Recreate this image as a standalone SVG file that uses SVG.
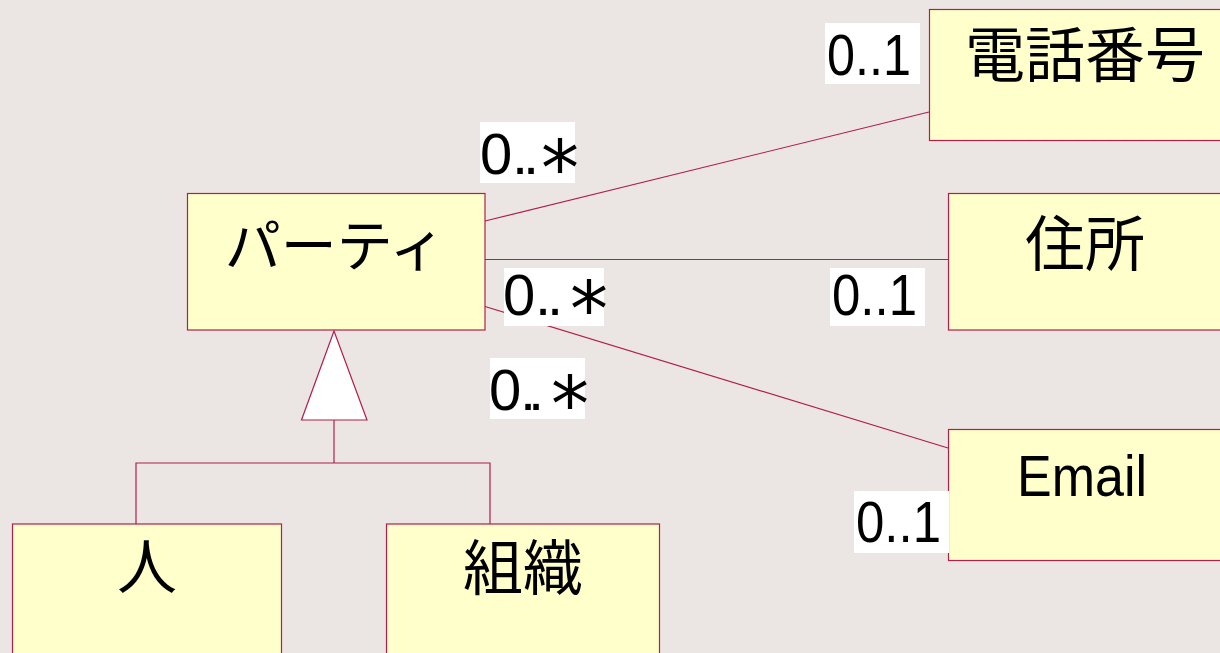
<svg xmlns="http://www.w3.org/2000/svg" width="1220" height="653" viewBox="0 0 1220 653">
<style>
.node{fill:#FFFFCC;stroke:#B0204A;stroke-width:1.2}
.conn{stroke:#B0204A;stroke-width:1.2;fill:none}
.lbl{font-family:"Noto Sans CJK JP","Liberation Sans",sans-serif;font-size:60px;fill:#000;text-anchor:middle}
.lbl.kana{font-size:56px}
.mult{font-family:"Liberation Sans",Arial,sans-serif;font-size:58px;fill:#000}
.ast{font-family:"DejaVu Sans",sans-serif;font-size:76px}
.bg{fill:#FFFFFF}
</style>
<rect x="0" y="0" width="1220" height="653" fill="#EBE6E3"/>
<g id="connectors">
<line class="conn" x1="485" y1="221" x2="929" y2="112"/>
<line class="conn" x1="485" y1="259.5" x2="948" y2="259.5"/>
<line class="conn" x1="485" y1="306.5" x2="948" y2="448"/>
<polyline class="conn" points="334,420 334,463"/>
<polyline class="conn" points="136,524 136,463 490,463 490,524"/>
<polygon points="334,331 301.5,420 367,420" fill="#FFFFFF" stroke="#B0204A" stroke-width="1.2"/>
</g>
<g id="party">
<rect class="node" x="187.5" y="193.5" width="297.5" height="136.5"/>
<text class="lbl kana" x="335" y="266">パーティ</text>
</g>
<g id="phone">
<rect class="node" x="929.5" y="9.5" width="300" height="131"/>
<text class="lbl" x="1085" y="77">電話番号</text>
</g>
<g id="address">
<rect class="node" x="948.5" y="193.5" width="290" height="136.5"/>
<text class="lbl" x="1085" y="266">住所</text>
</g>
<g id="email">
<rect class="node" x="948.5" y="429.5" width="290" height="131"/>
<text x="1082" y="496" font-family="Liberation Sans, Arial, sans-serif" font-size="58" text-anchor="middle" textLength="130" lengthAdjust="spacingAndGlyphs">Email</text>
</g>
<g id="person">
<rect class="node" x="12.5" y="524" width="269" height="140"/>
<text class="lbl" x="147" y="589">人</text>
</g>
<g id="organization">
<rect class="node" x="386.5" y="524" width="273" height="140"/>
<text class="lbl" x="523" y="590">組織</text>
</g>
<g id="multiplicities">
<rect class="bg" x="825" y="23" width="95" height="61"/>
<text class="mult" x="827" y="75" textLength="84" lengthAdjust="spacingAndGlyphs">0..1</text>
<rect class="bg" x="480" y="122" width="95" height="61"/>
<text class="mult" x="480 512 523" y="174">0..<tspan class="ast" x="541" dy="21">*</tspan></text>
<rect class="bg" x="504" y="268" width="100" height="58"/>
<text class="mult" x="503 535 547" y="315">0..<tspan class="ast" x="570" dy="21">*</tspan></text>
<rect class="bg" x="830" y="268" width="95" height="58"/>
<text class="mult" x="832" y="315" textLength="85" lengthAdjust="spacingAndGlyphs">0..1</text>
<rect class="bg" x="490" y="358" width="95" height="61"/>
<text class="mult" x="489 520 528" y="410">0..<tspan class="ast" x="551" dy="21">*</tspan></text>
<rect class="bg" x="854" y="491" width="95" height="62"/>
<text class="mult" x="856" y="542" textLength="85" lengthAdjust="spacingAndGlyphs">0..1</text>
</g>
</svg>
